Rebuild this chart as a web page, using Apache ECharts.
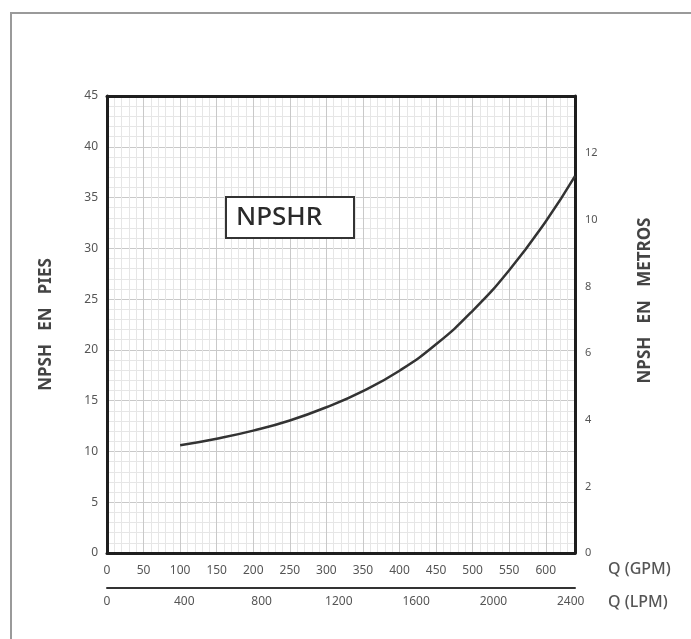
<!DOCTYPE html>
<html>
<head>
<meta charset="utf-8">
<script src="https://cdn.jsdelivr.net/npm/echarts@6/dist/echarts.min.js"></script>
<style>
  html, body { margin: 0; padding: 0; background: #fff; }
  #chart { width: 691px; height: 639px; }
</style>
</head>
<body>
<div id="chart"></div>
<script>
// caudal en GPM y NPSH requerido en pies
const caudalGpm = [100, 150, 200, 250, 300, 350, 400, 450, 500, 550, 600, 640];
const npshPies = [10.6, 11.25, 12.05, 13.05, 14.35, 15.95, 17.95, 20.55, 23.85, 27.85, 32.65, 37.1];

const gpmMax = 640;
const piesMax = 45;
const lpmPorGpm = 3.785;
const metrosPorPie = 0.3048;

const font = 'Noto Sans';
const gris = '#555';
const marco = { color: '#1e1e1e', width: 3 };

const soloMultiplo = (paso) => (v) => (Math.abs(v / paso - Math.round(v / paso)) < 1e-6 ? String(Math.round(v)) : '');

const chart = echarts.init(document.getElementById('chart'));

const option = {
  backgroundColor: '#fff',
  animation: false,
  textStyle: { fontFamily: font },
  graphic: [
    {
      type: 'polyline',
      silent: true,
      shape: { points: [[11, 700], [11, 13], [700, 13]] },
      style: { stroke: '#9a9a9a', lineWidth: 2, fill: null }
    }
  ],
  title: {
    text: 'NPSHR',
    left: 226,
    top: 197,
    backgroundColor: '#fff',
    borderColor: '#333',
    borderWidth: 2,
    padding: [8, 32, 7, 10],
    textStyle: { fontFamily: font, fontSize: 26, fontWeight: 500, color: '#2a2a2a' }
  },
  grid: {
    left: 107,
    right: 116,
    top: 96,
    bottom: 86,
    show: false
  },
  xAxis: [
    {
      type: 'value',
      min: 0,
      max: gpmMax,
      interval: 50,
      position: 'bottom',
      axisLine: { show: true, onZero: false, lineStyle: marco },
      axisTick: { show: false },
      axisLabel: { margin: 12, color: gris, fontSize: 12, formatter: soloMultiplo(50) },
      splitLine: { show: true, lineStyle: { color: '#c9c9c9', width: 1 } },
      minorTick: { show: false, splitNumber: 5 },
      minorSplitLine: { show: true, lineStyle: { color: '#e6e6e6', width: 1 } },
      name: 'Q (GPM)',
      nameLocation: 'end',
      nameGap: 33,
      nameTextStyle: { color: gris, fontSize: 16, fontWeight: 500, verticalAlign: 'top', padding: [8, 0, 0, 0] }
    },
    {
      type: 'value',
      min: 0,
      max: gpmMax * lpmPorGpm,
      interval: 400,
      position: 'bottom',
      offset: 35,
      axisLine: { show: true, onZero: false, lineStyle: { color: '#333', width: 2 } },
      axisTick: { show: false },
      axisLabel: { margin: 8, color: gris, fontSize: 12, formatter: soloMultiplo(400) },
      splitLine: { show: false },
      name: 'Q (LPM)',
      nameLocation: 'end',
      nameGap: 33,
      nameTextStyle: { color: gris, fontSize: 16, fontWeight: 500, verticalAlign: 'top', padding: [6, 0, 0, 0] }
    },
    {
      type: 'value',
      min: 0,
      max: gpmMax,
      position: 'top',
      axisLine: { show: true, onZero: false, lineStyle: marco },
      axisTick: { show: false },
      axisLabel: { show: false },
      splitLine: { show: false }
    }
  ],
  yAxis: [
    {
      type: 'value',
      min: 0,
      max: piesMax,
      interval: 5,
      position: 'left',
      axisLine: { show: true, onZero: false, lineStyle: marco },
      axisTick: { show: false },
      axisLabel: { margin: 9, color: gris, fontSize: 12 },
      splitLine: { show: true, lineStyle: { color: '#c9c9c9', width: 1 } },
      minorTick: { show: false, splitNumber: 5 },
      minorSplitLine: { show: true, lineStyle: { color: '#e6e6e6', width: 1 } },
      name: 'NPSH   EN   PIES',
      nameLocation: 'middle',
      nameRotate: 90,
      nameGap: 52,
      nameTextStyle: { color: '#444', fontSize: 17, fontWeight: 'bold' }
    },
    {
      type: 'value',
      min: 0,
      max: piesMax * metrosPorPie,
      interval: 2,
      position: 'right',
      axisLine: { show: true, onZero: false, lineStyle: marco },
      axisTick: { show: false },
      axisLabel: { margin: 10, color: gris, fontSize: 11, formatter: soloMultiplo(2) },
      splitLine: { show: false },
      name: 'NPSH   EN   METROS',
      nameLocation: 'middle',
      nameRotate: 90,
      nameGap: 62,
      nameTextStyle: { color: '#444', fontSize: 17, fontWeight: 'bold', padding: [0, 0, 0, 48] }
    }
  ],
  series: [
    {
      name: 'NPSHR',
      type: 'line',
      xAxisIndex: 0,
      yAxisIndex: 0,
      smooth: true,
      symbol: 'none',
      data: caudalGpm.map((q, i) => [q, npshPies[i]]),
      lineStyle: { color: '#333', width: 2.5 },
      z: 3
    }
  ]
};

chart.setOption(option);
</script>
</body>
</html>
